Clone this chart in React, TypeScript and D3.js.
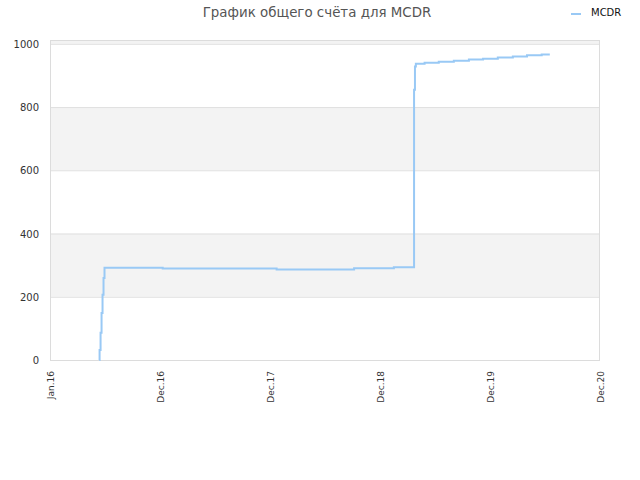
import React, { useEffect, useRef } from 'react';
import * as d3 from 'd3';

// x ticks (labels sit at evenly spaced positions)
const tickDates = ['2016-01-01', '2016-12-01', '2017-12-01', '2018-12-01', '2019-12-01', '2020-12-01'];
const tickLabels = ['Jan.16', 'Dec.16', 'Dec.17', 'Dec.18', 'Dec.19', 'Dec.20'];

// score history for MCDR
const scoreDates = [
  '2016-05-30', '2016-05-31', '2016-06-03', '2016-06-06', '2016-06-09', '2016-06-12', '2016-06-15',
  '2016-12-10', '2017-12-23', '2018-09-06', '2019-01-16',
  '2019-03-24', '2019-03-27', '2019-03-30', '2019-04-28', '2019-06-14', '2019-08-03',
  '2019-09-22', '2019-11-08', '2019-12-27', '2020-02-15', '2020-04-02', '2020-05-21', '2020-06-17',
];
const scoreValues = [
  0, 32, 86, 149, 206, 259, 292,
  289, 286, 290, 293,
  855, 928, 937, 940, 943, 946,
  950, 953, 957, 960, 964, 966, 966,
];

const yTicks = [0, 200, 400, 600, 800, 1000];

const W = 640;
const H = 480;
const left = 50;
const right = 600;
const top = 40;
const bottom = 360;

export default function App() {
  const ref = useRef<SVGSVGElement>(null);

  useEffect(() => {
    if (!ref.current) return;
    const svg = d3.select(ref.current);
    svg.selectAll('*').remove();

    const parse = d3.timeParse('%Y-%m-%d');
    const ticks = tickDates.map((d) => parse(d) as Date);

    const x = d3
      .scaleTime()
      .domain(ticks)
      .range(ticks.map((_, i) => left + (i * (right - left)) / (ticks.length - 1)));
    const y = d3.scaleLinear().domain([0, 1012]).range([bottom, top]);

    // alternating bands
    const bands = [200, 600, 1000];
    svg
      .selectAll('rect.band')
      .data(bands)
      .enter()
      .append('rect')
      .attr('x', left)
      .attr('width', right - left)
      .attr('y', (d) => y(Math.min(d + 200, 1012)))
      .attr('height', (d) => y(d) - y(Math.min(d + 200, 1012)))
      .attr('fill', '#f3f3f3');

    // grid lines
    svg
      .selectAll('line.grid')
      .data(yTicks)
      .enter()
      .append('line')
      .attr('x1', left)
      .attr('x2', right)
      .attr('y1', (d) => y(d) + 0.5)
      .attr('y2', (d) => y(d) + 0.5)
      .attr('stroke', '#e0e0e0');

    // frame
    svg
      .append('rect')
      .attr('x', left + 0.5)
      .attr('y', top + 0.5)
      .attr('width', right - left - 1)
      .attr('height', bottom - top)
      .attr('fill', 'none')
      .attr('stroke', '#dcdcdc');

    // y labels
    svg
      .selectAll('text.ylab')
      .data(yTicks)
      .enter()
      .append('text')
      .attr('x', 39)
      .attr('y', (d) => y(d) + 4)
      .attr('text-anchor', 'end')
      .attr('font-family', 'DejaVu Sans')
      .attr('font-size', 10)
      .attr('fill', '#333')
      .text((d) => d);

    // x labels, rotated
    svg
      .selectAll('text.xlab')
      .data(ticks)
      .enter()
      .append('text')
      .attr('transform', (d) => `translate(${x(d) + 3.5},${bottom + 11}) rotate(-90)`)
      .attr('text-anchor', 'end')
      .attr('font-family', 'DejaVu Sans')
      .attr('font-size', 9)
      .attr('fill', '#333')
      .text((_, i) => tickLabels[i]);

    const data = scoreDates.map((d, i) => ({ date: parse(d) as Date, value: scoreValues[i] }));
    const line = d3
      .line<{ date: Date; value: number }>()
      .x((d) => x(d.date))
      .y((d) => y(d.value))
      .curve(d3.curveStepAfter);

    svg
      .append('path')
      .datum(data)
      .attr('fill', 'none')
      .attr('stroke', '#99c9f5')
      .attr('stroke-width', 2)
      .attr('d', line);

    // title
    svg
      .append('text')
      .attr('x', 317)
      .attr('y', 17)
      .attr('text-anchor', 'middle')
      .attr('font-family', 'DejaVu Sans')
      .attr('font-size', 13.4)
      .attr('fill', '#555')
      .text('График общего счёта для MCDR');

    // legend
    svg
      .append('line')
      .attr('x1', 571)
      .attr('x2', 581)
      .attr('y1', 14)
      .attr('y2', 14)
      .attr('stroke', '#99c9f5')
      .attr('stroke-width', 2);
    svg
      .append('text')
      .attr('x', 591)
      .attr('y', 16)
      .attr('font-family', 'DejaVu Sans')
      .attr('font-size', 10)
      .attr('fill', '#111')
      .text('MCDR');
  }, []);

  return (
    <svg
      ref={ref}
      width={W}
      height={H}
      style={{ position: 'absolute', left: 0, top: 0, background: '#fff' }}
    ></svg>
  );
}
